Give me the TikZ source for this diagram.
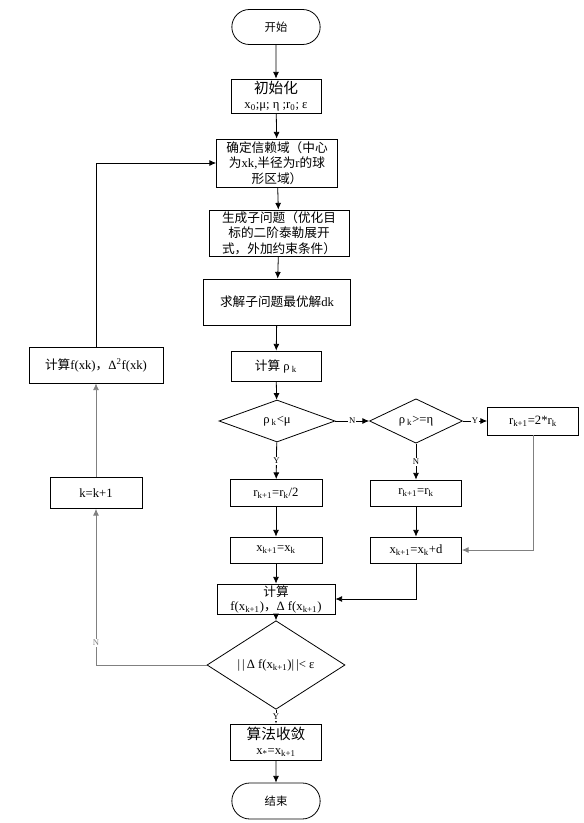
\documentclass[tikz,border=0pt]{standalone}
\usepackage{fontspec}
\setmainfont{Liberation Serif}
\newfontfamily\cjk{Noto Sans CJK SC}
\usetikzlibrary{arrows.meta}
\usetikzlibrary{shapes.geometric}
\usetikzlibrary{shapes.misc}

% chinese text in the cjk family
\newcommand{\cn}[1]{{\cjk #1}}

\begin{document}
\begin{tikzpicture}[x=0.75pt,y=-0.75pt,
	sz/.style 2 args={minimum width=#1*0.75pt, minimum height=#2*0.75pt},
	box/.style={draw, rectangle, line width=0.6pt, align=center, inner sep=1pt, font=\fontsize{9.5}{11.5}\selectfont},
	term/.style={draw, rounded rectangle, line width=0.6pt, inner sep=1pt, font=\fontsize{8.5}{10}\selectfont},
	cond/.style={draw, diamond, line width=0.6pt, inner sep=0pt, font=\fontsize{9.5}{11}\selectfont},
	line/.style={draw, line width=0.6pt, -{Latex[length=5pt,width=4.5pt]}},
	lbl/.style={fill=white, inner sep=0.8pt, font=\fontsize{6.5}{7}\selectfont}
]

	% fix the page to the size of the reference
	\useasboundingbox (0,0) rectangle (584,823);

	% main column
	\node[term, sz={91}{35}] (start) at (276,27) {\cn{开始}};
	\node[box, sz={90}{34}] (init) at (276,96) {{\fontsize{11}{12}\selectfont\cn{初始化}}\\x\textsubscript{0};μ; η ;r\textsubscript{0}; ε};
	\node[box, sz={121}{48}] (trust) at (277,163) {\cn{确定信赖域（中心}\\\cn{为}xk,\cn{半径为}r\cn{的球}\\\cn{形区域）}};
	\node[box, sz={140}{46}] (sub) at (279,233) {\cn{生成子问题（优化目}\\\cn{标的二阶泰勒展开}\\\cn{式，外加约束条件）}};
	\node[box, sz={147}{46}] (solve) at (277,302) {\cn{求解子问题最优解}dk};
	\node[box, sz={90}{30}] (rho) at (276,366) {\cn{计算} ρ\,\textsubscript{k}};
	\node[cond, sz={116}{42}] (d1) at (277,421) {ρ\,\textsubscript{k}<μ};

	% right branch
	\node[cond, sz={93}{40}] (d2) at (416,421) {ρ\,\textsubscript{k}>=η};
	\node[box, sz={91}{28}] (r2k) at (533,421) {r\textsubscript{k+1}=2*r\textsubscript{k}};
	\node[box, sz={91}{26}] (rsame) at (416,493) {r\textsubscript{k+1}=r\textsubscript{k}};
	\node[box, sz={91}{26}] (xnew) at (416,550) {x\textsubscript{k+1}=x\textsubscript{k}+d};

	% shrink branch
	\node[box, sz={92}{27}] (rhalf) at (276,493) {r\textsubscript{k+1}=r\textsubscript{k}/2};
	\node[box, sz={92}{26}] (xsame) at (276,550) {x\textsubscript{k+1}=x\textsubscript{k}};

	% stopping test
	\node[box, sz={118}{28}, font=\fontsize{9.5}{10.5}\selectfont] (calcf) at (276,599) {\cn{计算}\\f(x\textsubscript{k+1})\cn{，}Δ f(x\textsubscript{k+1})};
	\node[cond, sz={138}{54}] (d3) at (276,665) {|\,|\,Δ f(x\textsubscript{k+1})|\,|< ε};
	\node[box, sz={91}{36}] (conv) at (276,742) {{\fontsize{11}{12}\selectfont\cn{算法收敛}}\\x\textsubscript{*}=x\textsubscript{k+1}};
	\node[term, sz={91}{36}] (stop) at (276,801) {\cn{结束}};

	% loop back on the left
	\node[box, sz={92}{31}] (kinc) at (96,493) {k=k+1};
	\node[box, sz={134}{36}] (calcfx) at (96,365) {\cn{计算}f(xk)\cn{，}Δ\textsuperscript{2}f(xk)};

	% connectors
	\draw[line] (start) -- (init);
	\draw[line] (init) -- (trust);
	\draw[line] (trust) -- (sub);
	\draw[line] (sub) -- (solve);
	\draw[line] (solve) -- (rho);
	\draw[line] (rho) -- (d1);
	\draw[line] (d1) -- node[lbl] {N} (d2);
	\draw[line] (d2) -- node[lbl] {Y} (r2k);
	\draw[line] (d1) -- node[lbl] {Y} (rhalf);
	\draw[line] (d2) -- node[lbl] {N} (rsame);
	\draw[line] (rhalf) -- (xsame);
	\draw[line] (rsame) -- (xnew);
	\draw[line, gray] (r2k) |- (xnew);
	\draw[line] (xsame) -- (calcf);
	\draw[line] (xnew) |- (calcf);
	\draw[line] (calcf) -- (d3);
	\draw[line] (d3) -- node[lbl] {Y} (conv);
	\draw[line] (conv) -- (stop);
	\draw[line, gray] (d3) -| node[lbl, pos=0.57] {N} (kinc);
	\draw[line, gray] (kinc) -- (calcfx);
	\draw[line] (calcfx) |- (trust);

\end{tikzpicture}
\end{document}
